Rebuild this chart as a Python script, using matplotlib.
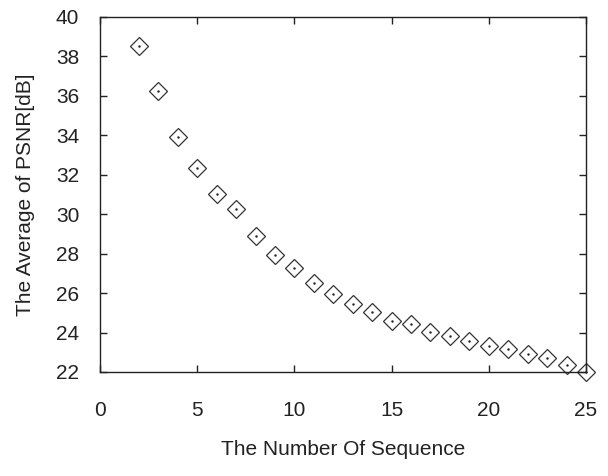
import matplotlib
matplotlib.use("Agg")
import matplotlib.pyplot as plt
from matplotlib import font_manager

# the scanned text is tall and narrow, so use a narrow face if there is one
names = {f.name for f in font_manager.fontManager.ttflist}
if 'Liberation Sans Narrow' in names:
    plt.rcParams['font.family'] = ['Liberation Sans Narrow', 'DejaVu Sans']
    FS = 17
else:
    plt.rcParams['font.family'] = ['Liberation Sans', 'DejaVu Sans']
    FS = 15

# sequence number vs average PSNR
seq = [2, 3, 4, 5, 6, 7, 8, 9, 10, 11, 12, 13, 14, 15, 16, 17, 18, 19, 20, 21, 22, 23, 24, 25]
psnr = [38.53, 36.27, 33.91, 32.34, 31.05, 30.26, 28.9, 27.93, 27.27, 26.51, 25.97, 25.45, 25.02,
        24.6, 24.43, 24.03, 23.82, 23.55, 23.3, 23.18, 22.9, 22.7, 22.35, 22.02]

xticks = [0, 5, 10, 15, 20, 25]
yticks = [22, 24, 26, 28, 30, 32, 34, 36, 38, 40]

fig = plt.figure(figsize=(6.08, 4.76), dpi=100)
ax = fig.add_axes([0.1645, 0.2185, 0.7993, 0.7458])

ax.plot(seq, psnr, linestyle='none', marker='D', markersize=9.5, markerfacecolor='none',
        markeredgecolor='#333333', markeredgewidth=0.9, clip_on=False)
ax.plot(seq, psnr, linestyle='none', marker='.', markersize=1.5, color='#222222', clip_on=False)

ax.set_xlim(0, 25)
ax.set_ylim(22, 40)
ax.set_xticks(xticks)
ax.set_yticks(yticks)
ax.tick_params(axis='both', direction='in', length=5, width=1, top=True, right=True,
               labelsize=FS, colors='#222222')
ax.tick_params(axis='x', pad=21)
ax.tick_params(axis='y', pad=15)
for s in ax.spines.values():
    s.set_linewidth(1)
    s.set_color('#222222')

ax.set_xlabel('The Number Of Sequence', fontsize=FS, labelpad=14, color='#222222')
ax.set_ylabel('The Average of PSNR[dB]', fontsize=FS, labelpad=15, color='#222222')

fig.savefig('out.png', dpi=100)
